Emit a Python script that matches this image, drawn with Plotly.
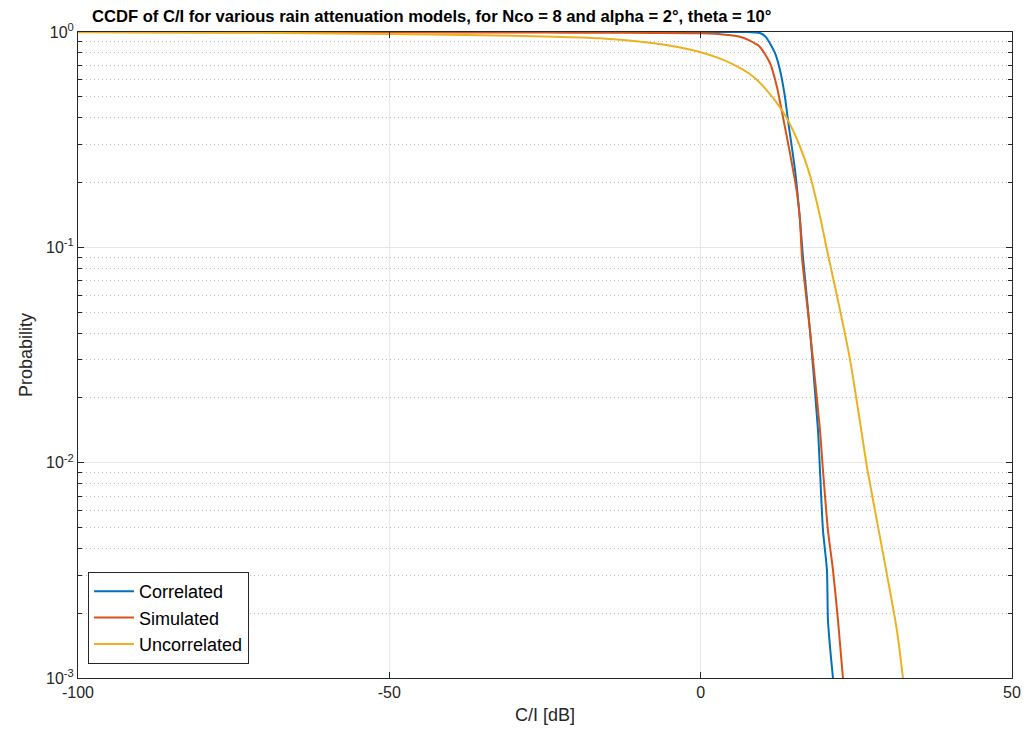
import plotly.graph_objects as go

# C/I values [dB] and CCDF probabilities for each rain attenuation model
ci_correlated = [-100, -50, 0, 5.0, 7.6, 8.7, 9.5, 10.3, 10.8, 11.45, 11.93, 12.74, 13.54,
                 14.02, 15.15, 15.95, 16.43, 17.55, 18.84, 19.16, 19.64, 20.28, 20.44,
                 20.92, 21.25]
p_correlated = [1.0, 1.0, 1.0, 1.0, 1.0, 0.995, 0.989, 0.958, 0.918, 0.852, 0.799, 0.666,
                0.499, 0.39, 0.229, 0.134, 0.090, 0.0413, 0.0142, 0.00924, 0.00486,
                0.00317, 0.00186, 0.00125, 0.00100]

ci_simulated = [-100, -75, -50, -25, -16, -8, 0, 4.0, 6.3, 7.9, 9.52, 11.13, 12.25, 13.22,
                14.34, 15.47, 15.95, 16.27, 17.55, 19.16, 19.64, 20.44, 21.25, 22.05, 22.85]
p_simulated = [0.999, 0.998, 0.997, 0.994, 0.992, 0.99, 0.986, 0.972, 0.951, 0.911, 0.852,
               0.718, 0.556, 0.403, 0.274, 0.179, 0.134, 0.090, 0.0413, 0.0142, 0.00924,
               0.00486, 0.00317, 0.00186, 0.00100]

ci_uncorrelated = [-100, -75, -50, -35, -25, -16.2, -8.1, -3.3, 0, 2.6, 5.2, 7.9, 10.0,
                   13.2, 15.5, 17.55, 19.16, 20.28, 22.37, 23.98, 25.58, 26.71, 28.31,
                   29.92, 31.52, 32.49]
p_uncorrelated = [0.998, 0.993, 0.979, 0.966, 0.953, 0.935, 0.891, 0.847, 0.805, 0.762,
                  0.708, 0.638, 0.562, 0.427, 0.316, 0.216, 0.1395, 0.0975, 0.0513, 0.0302,
                  0.0155, 0.00955, 0.00537, 0.00302, 0.00166, 0.00100]

series_names = ["Correlated", "Simulated", "Uncorrelated"]
series_colors = ["#0072BD", "#D95319", "#EDB120"]
series_smoothing = [0.6, 0.6, 0.8]

x_ticks = [-100, -50, 0, 50]
x_tick_text = ["-100", "-50", "0", "50"]
y_ticks = [1, 0.1, 0.01, 0.001]
y_tick_text = ["10<sup>0</sup>", "10<sup>-1</sup>", "10<sup>-2</sup>", "10<sup>-3</sup>"]

FONT = "Liberation Sans, Arial, Helvetica, sans-serif"
AXIS = "#262626"

fig = go.Figure()
for name, xs, ys, col, sm in zip(series_names,
                                 [ci_correlated, ci_simulated, ci_uncorrelated],
                                 [p_correlated, p_simulated, p_uncorrelated],
                                 series_colors, series_smoothing):
    fig.add_trace(go.Scatter(x=xs, y=ys, mode="lines", name=name,
                             line=dict(color=col, width=2, shape="spline", smoothing=sm)))

fig.update_layout(
    width=1024, height=729,
    margin=dict(l=78, r=12, t=32, b=51),
    paper_bgcolor="white", plot_bgcolor="white",
    font=dict(family=FONT, size=16, color=AXIS),
    title=dict(text="<b>CCDF of C/I for various rain attenuation models, for Nco = 8 and alpha = 2°, theta = 10°</b>",
               x=92 / 1024, xanchor="left", y=1 - 16 / 729, yanchor="middle",
               font=dict(size=16.6, color="black")),
    showlegend=True,
    legend=dict(x=0.0107, y=0.0217, xanchor="left", yanchor="bottom",
                bgcolor="white", bordercolor=AXIS, borderwidth=1,
                font=dict(size=18, color="black"), itemwidth=40,
                tracegroupgap=0),
    xaxis=dict(range=[-100, 50], tickvals=x_ticks, ticktext=x_tick_text,
               ticks="inside", ticklen=6, automargin=False,
               tickcolor=AXIS, showline=True, linecolor=AXIS, linewidth=1,
               mirror="ticks", showgrid=True, gridcolor="#e6e6e6", gridwidth=1,
               zeroline=False, title=dict(text="C/I [dB]", font=dict(size=18), standoff=8),
               tickfont=dict(size=16)),
    yaxis=dict(type="log", range=[-3, 0], tickvals=y_ticks, ticktext=y_tick_text,
               ticks="inside", ticklen=6, tickcolor=AXIS, showline=True, automargin=False,
               linecolor=AXIS, linewidth=1, mirror="ticks", showgrid=True,
               gridcolor="#e6e6e6", gridwidth=1, zeroline=False,
               minor=dict(dtick="D1", ticks="inside", ticklen=4, tickcolor=AXIS,
                          showgrid=True, gridcolor="#bdbdbd", griddash="1px,3px"),
               title=dict(text="Probability", font=dict(size=18), standoff=8),
               tickfont=dict(size=16)),
)

fig.write_html("out.html")
